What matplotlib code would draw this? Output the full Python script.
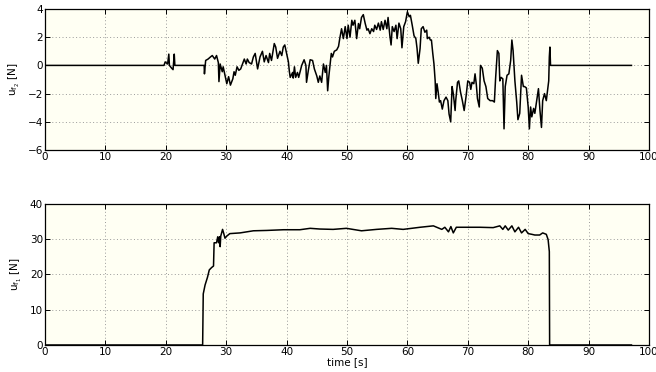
import matplotlib
matplotlib.use("Agg")
import matplotlib.pyplot as plt

# u_f2 trace
t_f2 = [0, 19.7, 19.9, 20.3, 20.5, 20.6, 20.97, 21.2, 21.4, 21.5, 26.35, 26.4, 26.6, 27.0,
        27.4, 27.7, 28.1, 28.4, 28.7, 28.8, 29.0, 29.35, 29.5, 29.8, 30.1, 30.4, 30.7, 31.1,
        31.3, 31.5, 31.8, 32.1, 32.4, 32.7, 33.0, 33.3, 33.5, 33.8, 34.2, 34.5, 34.8, 35.2,
        35.6, 36.0, 36.3, 36.6, 37.0, 37.2, 37.5, 37.96, 38.2, 38.5, 38.9, 39.2, 39.45, 39.7,
        40.0, 40.3, 40.45, 40.6, 41.0, 41.1, 41.3, 41.5, 41.8, 42.0, 42.5, 42.9, 43.2, 43.3,
        43.6, 43.9, 44.3, 44.6, 45.0, 45.25, 45.5, 45.8, 46.1, 46.4, 46.6, 46.8, 47.0, 47.4,
        47.6, 47.9, 48.3, 48.6, 48.8, 49.1, 49.4, 49.7, 50.0, 50.2, 50.5, 50.8, 51.0, 51.3,
        51.6, 51.9, 52.1, 52.4, 52.7, 53.0, 53.3, 53.5, 53.8, 54.1, 54.4, 54.6, 54.9, 55.2,
        55.5, 55.7, 56.0, 56.3, 56.6, 56.8, 57.1, 57.3, 57.5, 57.8, 58.1, 58.3, 58.6, 58.9,
        59.1, 59.4, 59.7, 60.0, 60.3, 60.5, 60.8, 61.1, 61.4, 61.6, 61.8, 62.1, 62.3, 62.6,
        62.9, 63.2, 63.3, 63.6, 63.8, 63.98, 64.2, 64.4, 64.6, 64.7, 64.9, 65.1, 65.3, 65.5,
        65.78, 66.06, 66.4, 66.7, 66.9, 67.17, 67.4, 67.6, 67.9, 68.0, 68.3, 68.5, 68.8, 69.1,
        69.4, 69.7, 70.0, 70.3, 70.5, 70.7, 71.0, 71.2, 71.4, 71.6, 71.9, 72.1, 72.4, 72.7,
        73.0, 73.3, 73.7, 74.1, 74.4, 74.6, 74.9, 75.15, 75.3, 75.5, 75.8, 76.0, 76.2, 76.5,
        76.8, 77.1, 77.3, 77.5, 77.8, 78.1, 78.3, 78.6, 78.9, 79.2, 79.4, 79.7, 80.0, 80.2,
        80.4, 80.6, 80.9, 81.1, 81.4, 81.7, 81.95, 82.2, 82.4, 82.7, 83.0, 83.2, 83.4, 83.5,
        83.6, 83.7, 97.1]
u_f2 = [0, 0, 0.25, 0.1, 0.8, 0.0, -0.2, -0.3, 0.8, 0, 0, -0.6, 0.35, 0.45,
        0.6, 0.7, 0.45, 0.7, 0.2, -1.15, 0.1, -0.45, -0.1, -0.7, -1.3, -0.8, -1.4, -0.95,
        -0.45, -0.7, -0.1, -0.35, -0.25, 0.1, 0.45, 0.1, 0.45, 0.2, 0.1, 0.6, 0.85, -0.25,
        0.6, 1.0, 0.25, 0.7, 0.2, 0.85, 0.35, 1.55, 1.3, 0.5, 1.0, 0.7, 1.3, 1.45,
        0.85, 0.25, -0.4, -0.85, -0.5, -0.9, -0.1, -0.85, -0.5, -0.85, 0.0, 0.4, 0.0, -1.2,
        -0.35, 0.4, 0.35, -0.25, -0.75, -1.2, -0.75, -1.2, 0.1, -0.5, 0.0, -1.8, -0.75, 0.85,
        0.6, 1.0, 1.1, 1.35, 1.9, 2.6, 1.9, 2.75, 1.9, 2.85, 2.0, 3.2, 2.85, 3.2,
        1.9, 2.97, 2.6, 3.4, 3.6, 3.0, 2.5, 2.6, 2.25, 2.6, 2.4, 2.85, 2.55, 3.0,
        2.5, 3.1, 2.55, 3.2, 2.6, 3.4, 2.1, 1.45, 2.75, 2.4, 2.85, 1.9, 3.0, 2.6,
        1.25, 2.75, 3.1, 3.8, 3.45, 3.55, 2.85, 2.1, 1.9, 1.2, 0.15, 1.2, 2.6, 2.75,
        2.35, 2.5, 1.9, 2.0, 1.8, 1.8, 0.86, 0.1, -1.1, -2.35, -1.3, -1.9, -2.6, -2.5,
        -3.1, -2.5, -2.25, -2.5, -3.45, -4.0, -1.5, -2.0, -3.2, -2.5, -1.2, -1.1, -1.9, -2.5,
        -3.2, -2.25, -1.1, -1.2, -1.7, -1.2, -1.3, -0.6, -1.3, -2.35, -2.95, 0.0, -0.2, -1.1,
        -1.5, -2.35, -2.5, -2.5, -2.6, -0.95, 1.05, 0.85, -1.1, -0.85, -0.95, -4.5, -1.5, -0.7,
        -0.6, 0.35, 1.8, 1.05, -1.1, -2.6, -3.85, -3.4, -0.7, -1.5, -1.5, -1.6, -2.95, -4.5,
        -2.95, -3.65, -3.05, -3.4, -2.5, -1.65, -3.2, -4.4, -2.5, -2.0, -2.5, -1.8, -1.1, 0.6,
        1.3, 0.0, 0.0]

# u_f1 trace
t_f1 = [0, 26.1, 26.2, 26.5, 26.9, 27.2, 27.6, 27.9, 28.0, 28.4, 28.6, 28.75, 28.9, 29.0,
        29.1, 29.4, 29.6, 29.8, 30.1, 30.6, 32.3, 34.5, 36.7, 39.5, 42.2, 43.9, 45.5, 47.7,
        49.9, 52.4, 54.9, 57.4, 59.3, 62.1, 64.3, 65.7, 66.2, 66.8, 67.2, 67.6, 68.1, 69.8,
        72.0, 74.2, 75.3, 75.8, 76.2, 76.7, 77.3, 77.8, 78.4, 78.9, 79.5, 80.0, 80.6, 81.1,
        81.9, 82.4, 83.0, 83.3, 83.5, 83.55, 97.1]
u_f1 = [0, 0, 14.5, 17.0, 19.2, 21.3, 22.0, 22.4, 29.0, 29.0, 30.7, 29.0, 30.7, 27.9,
        30.9, 32.8, 31.6, 30.3, 30.9, 31.6, 31.8, 32.4, 32.5, 32.7, 32.7, 33.1, 32.9, 32.8,
        33.1, 32.4, 32.8, 33.1, 32.8, 33.4, 33.8, 32.8, 33.4, 32.1, 33.6, 31.8, 33.4, 33.4,
        33.4, 33.3, 33.8, 32.8, 33.8, 32.6, 33.8, 32.1, 33.4, 31.8, 32.8, 31.6, 31.4, 31.2,
        31.2, 31.8, 31.4, 29.9, 26.5, 0, 0]

x_ticks = [0, 10, 20, 30, 40, 50, 60, 70, 80, 90, 100]

BG = "#fffff3"

fig = plt.figure(figsize=(6.56, 3.72), dpi=100)
ax_top = fig.add_axes([0.0686, 0.5968, 0.9207, 0.379])
ax_bot = fig.add_axes([0.0686, 0.0726, 0.9207, 0.379])


def style_axes(ax):
    ax.set_facecolor(BG)
    ax.set_xlim(0, 100)
    ax.set_xticks(x_ticks)
    ax.grid(True, color="#9a9a9a", linestyle=(0, (1, 2.5)), linewidth=0.7)
    ax.tick_params(direction="in", length=3.5, width=0.7, top=True, right=True,
                   labelsize=7.5, pad=1.5)
    for s in ax.spines.values():
        s.set_linewidth(0.9)


ax_top.plot(t_f2, u_f2, color="black", linewidth=1.1)
style_axes(ax_top)
ax_top.set_ylim(-6, 4)
ax_top.set_yticks([-6, -4, -2, 0, 2, 4])
ax_top.set_yticklabels(["\u22126", "\u22124", "\u22122", "0", "2", "4"])
ax_top.set_ylabel(r"$\mathregular{u_{f_2}}$ [N]", fontsize=7.5, labelpad=4)

ax_bot.plot(t_f1, u_f1, color="black", linewidth=1.1)
style_axes(ax_bot)
ax_bot.set_ylim(0, 40)
ax_bot.set_yticks([0, 10, 20, 30, 40])
ax_bot.set_ylabel(r"$\mathregular{u_{f_1}}$ [N]", fontsize=7.5, labelpad=4)
ax_bot.set_xlabel("time [s]", fontsize=7.5, labelpad=0)

fig.savefig("out.png", dpi=100)
